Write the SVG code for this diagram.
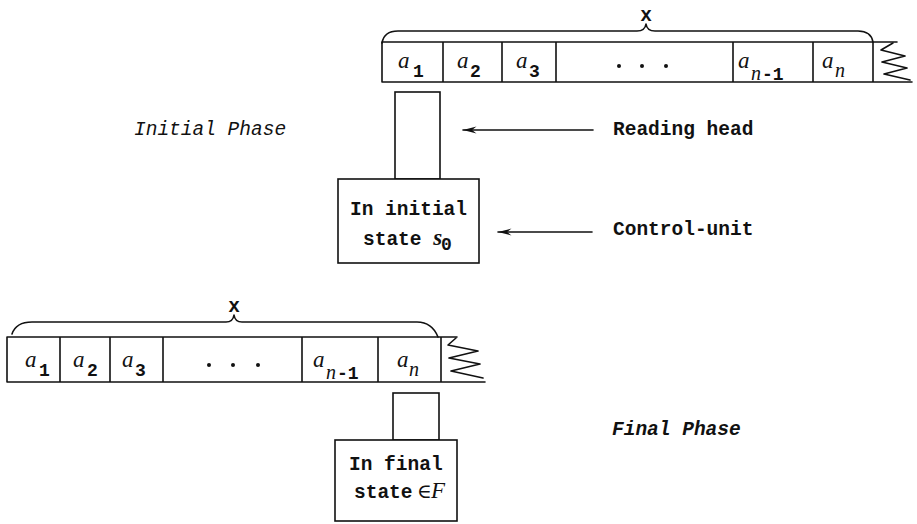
<svg xmlns="http://www.w3.org/2000/svg" width="917" height="524" viewBox="0 0 917 524">
<defs>
<style>
.ln{fill:none;stroke:#111;stroke-width:1.6;stroke-linecap:round;stroke-linejoin:round}
.box{fill:#fff;stroke:#111;stroke-width:1.6}
.t{font-family:"Liberation Mono","DejaVu Sans Mono",monospace;font-size:19.5px;font-weight:bold;fill:#111}
.it{font-family:"Liberation Mono","DejaVu Sans Mono",monospace;font-size:19.5px;font-style:italic;fill:#111}
.a{font-family:"Liberation Serif","DejaVu Serif",serif;font-size:23px;font-style:italic;fill:#111}
.sub{font-family:"Liberation Mono","DejaVu Sans Mono",monospace;font-size:18px;font-weight:bold;fill:#111}
.subi{font-family:"Liberation Serif","DejaVu Serif",serif;font-size:20px;font-style:italic;fill:#111}
.dot{fill:#111}
</style>
<marker id="arr" viewBox="0 0 14 8" refX="13.5" refY="4" markerWidth="14" markerHeight="8" markerUnits="userSpaceOnUse" orient="auto">
<path d="M13.5,4 L0,0.6 L4.5,4 L0,7.4 Z" fill="#111"/>
</marker>
</defs>
<rect width="917" height="524" fill="#fff"/>

<g id="tape-initial">
<path class="ln" d="M382,42 H897 M382,82 H912 M382,42 V82 M443,42 V82 M502,42 V82 M556,42 V82 M733,42 V82 M813,42 V82 M873,42 V82"/>
<path class="ln" d="M893,43 L881,50 L905,56 L882,62 L907,68 L884,74 L910,80"/>
<path class="ln" d="M382,43 Q384,31 398,31 L637,31 Q645,31 646,24 Q647,31 655,31 L858,31 Q871,31 873,42"/>
<text class="t" x="646" y="21" text-anchor="middle">x</text>
<text class="a" x="398" y="68">a</text><text class="sub" x="413" y="77">1</text>
<text class="a" x="457" y="68">a</text><text class="sub" x="470" y="77">2</text>
<text class="a" x="516" y="68">a</text><text class="sub" x="529" y="77">3</text>
<circle class="dot" cx="619" cy="66" r="2"/><circle class="dot" cx="642" cy="66" r="2"/><circle class="dot" cx="666" cy="66" r="2"/>
<text class="a" x="738" y="68">a</text><text class="subi" x="751" y="80">n</text><text class="sub" x="762" y="80">-1</text>
<text class="a" x="822" y="68">a</text><text class="subi" x="835" y="77">n</text>
</g>

<g id="head-initial">
<rect class="box" x="395" y="92" width="45" height="87"/>
</g>

<g id="control-initial">
<rect class="box" x="338" y="179" width="141" height="84"/>
<text class="t" x="350" y="215">In initial</text>
<text class="t" x="363" y="245">state <tspan class="a" font-size="21">s</tspan></text>
<text class="sub" x="441" y="250">0</text>
</g>

<g id="tape-final">
<path class="ln" d="M7,337 H457 M7,382 H485 M7,337 V382 M60,337 V382 M110,337 V382 M163,337 V382 M302,337 V382 M378,337 V382 M441,337 V382"/>
<path class="ln" d="M456,338 L448,345 L478,351 L449,358 L480,364 L451,371 L483,378"/>
<path class="ln" d="M12,334 Q16,322 32,322 L226,322 Q233,322 234,315 Q235,322 242,322 L417,322 Q432,322 438,337"/>
<text class="t" x="234" y="312" text-anchor="middle">x</text>
<text class="a" x="25" y="367">a</text><text class="sub" x="39" y="376">1</text>
<text class="a" x="73" y="367">a</text><text class="sub" x="87" y="376">2</text>
<text class="a" x="122" y="367">a</text><text class="sub" x="135" y="376">3</text>
<circle class="dot" cx="209" cy="365" r="2"/><circle class="dot" cx="233" cy="365" r="2"/><circle class="dot" cx="258" cy="365" r="2"/>
<text class="a" x="313" y="367">a</text><text class="subi" x="326" y="379">n</text><text class="sub" x="337" y="379">-1</text>
<text class="a" x="397" y="367">a</text><text class="subi" x="409" y="376">n</text>
</g>

<g id="head-final">
<rect class="box" x="393" y="393" width="46" height="47"/>
</g>

<g id="control-final">
<rect class="box" x="335" y="440" width="122" height="81"/>
<text class="t" x="349" y="470">In final</text>
<text class="t" x="354" y="498">state</text>
<text x="417" y="498" font-family="'DejaVu Serif',serif" font-size="20" fill="#111">∈</text>
<text class="a" x="431" y="498" font-size="20">F</text>
</g>

<g id="labels">
<text class="it" x="134" y="135">Initial Phase</text>
<text class="t" x="613" y="135">Reading head</text>
<text class="t" x="613" y="235">Control-unit</text>
<text class="it" x="612" y="435" font-weight="bold">Final Phase</text>
</g>

<g id="connectors">
<line class="ln" x1="593" y1="130" x2="463" y2="130" marker-end="url(#arr)"/>
<line class="ln" x1="592" y1="232" x2="498" y2="232" marker-end="url(#arr)"/>
</g>
</svg>
